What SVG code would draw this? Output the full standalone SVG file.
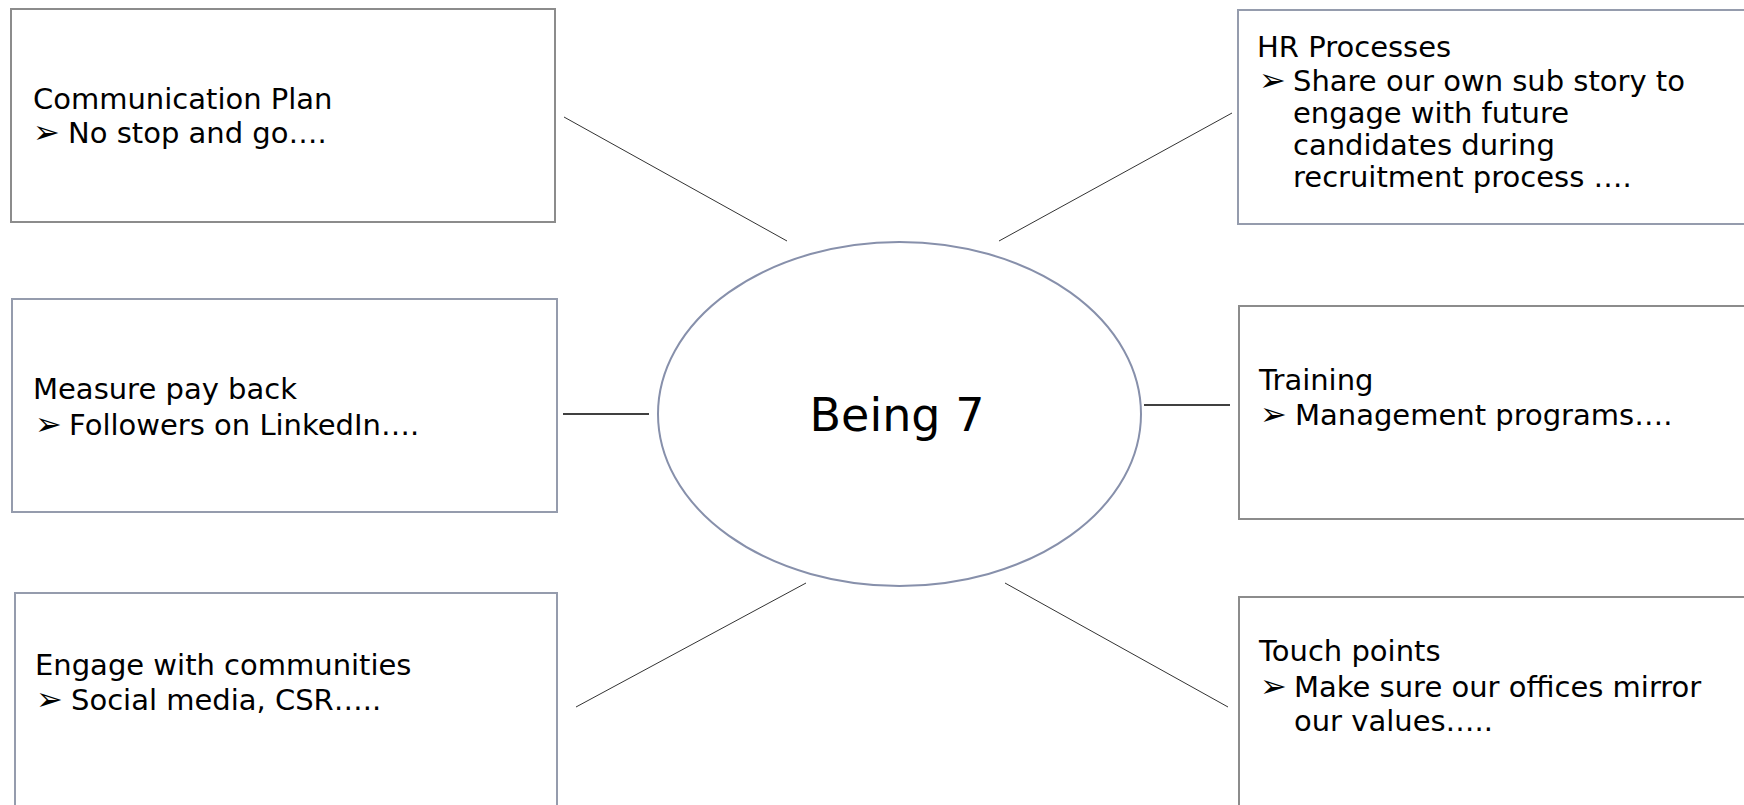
<svg xmlns="http://www.w3.org/2000/svg" width="1744" height="805" viewBox="0 0 1744 805">
<style>
.box{fill:#fff;stroke-width:2}
.g{stroke:#8c8c8c}
.b{stroke:#959cad}
.t{font-family:"DejaVu Sans","Verdana",sans-serif;font-size:29px;fill:#000}
.k{font-size:32px}
.c{stroke:#333;stroke-width:1;fill:none}
.h{stroke:#000;stroke-width:1.3;fill:none}
</style>
<rect width="1744" height="805" fill="#fff"/>
<g id="connectors">
<line class="c" x1="564" y1="117" x2="787" y2="241"/>
<line class="c" x1="1232" y1="113" x2="999" y2="241"/>
<line class="h" x1="563" y1="414" x2="649" y2="414"/>
<line class="h" x1="1144" y1="405" x2="1230" y2="405"/>
<line class="c" x1="576" y1="707" x2="806" y2="583"/>
<line class="c" x1="1005" y1="583" x2="1228" y2="707"/>
</g>
<g id="center">
<ellipse cx="899.5" cy="414" rx="241.5" ry="172" fill="#fff" stroke="#8790ab" stroke-width="2"/>
<text class="t" x="897" y="431" text-anchor="middle" style="font-size:46px">Being 7</text>
</g>
<g id="communication-plan">
<rect class="box g" x="11" y="9" width="544" height="213"/>
<text class="t" x="33" y="109">Communication Plan</text>
<text class="t" x="33" y="143"><tspan class="k">➢</tspan> <tspan x="68">No stop and go….</tspan></text>
</g>
<g id="hr-processes">
<rect class="box b" x="1238" y="10" width="520" height="214"/>
<text class="t" x="1257" y="57">HR Processes</text>
<text class="t" x="1259" y="91"><tspan class="k">➢</tspan> <tspan x="1293">Share our own sub story to</tspan></text>
<text class="t" x="1293" y="123">engage with future</text>
<text class="t" x="1293" y="155">candidates during</text>
<text class="t" x="1293" y="187">recruitment process ….</text>
</g>
<g id="measure-pay-back">
<rect class="box b" x="12" y="299" width="545" height="213"/>
<text class="t" x="33" y="399">Measure pay back</text>
<text class="t" x="35" y="435"><tspan class="k">➢</tspan> <tspan x="69">Followers on LinkedIn….</tspan></text>
</g>
<g id="training">
<rect class="box g" x="1239" y="306" width="520" height="213"/>
<text class="t" x="1259" y="390">Training</text>
<text class="t" x="1260" y="425"><tspan class="k">➢</tspan> <tspan x="1295">Management programs….</tspan></text>
</g>
<g id="engage-with-communities">
<rect class="box b" x="15" y="593" width="542" height="230"/>
<text class="t" x="35" y="675">Engage with communities</text>
<text class="t" x="36" y="710"><tspan class="k">➢</tspan> <tspan x="71">Social media, CSR…..</tspan></text>
</g>
<g id="touch-points">
<rect class="box g" x="1239" y="597" width="520" height="230"/>
<text class="t" x="1259" y="661">Touch points</text>
<text class="t" x="1260" y="697"><tspan class="k">➢</tspan> <tspan x="1294">Make sure our offices mirror</tspan></text>
<text class="t" x="1294" y="731">our values…..</text>
</g>
</svg>
